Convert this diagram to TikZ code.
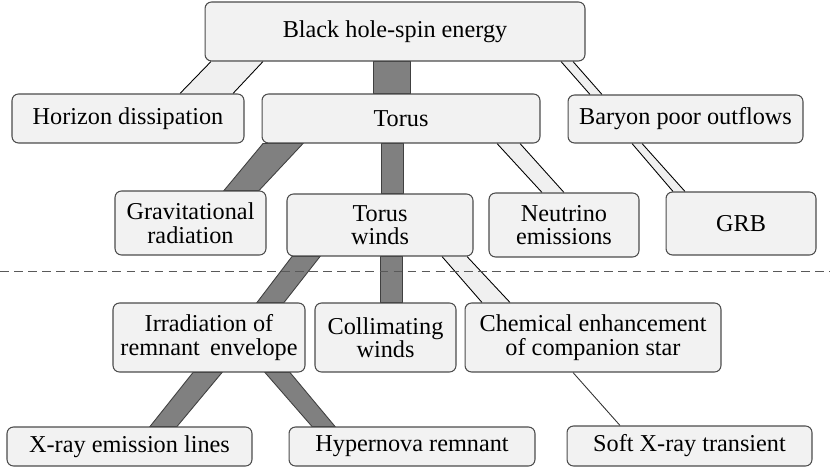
\documentclass[tikz,border=0pt]{standalone}
\usepackage{fontspec}
\setmainfont{Liberation Serif}
\newfontfamily\letratimes{Liberation Serif}
\usetikzlibrary{backgrounds}
\begin{document}
\begin{tikzpicture}[
    x=0.02cm, y=-0.02cm,
    caja/.style={font=\letratimes\fontsize{13.8}{13.4}\selectfont, draw=black!70, fill=black!5,
      rounded corners=0.13cm, line width=0.6pt, align=center, inner sep=0pt,
      execute at begin node=\letratimes},
    barraoscura/.style={fill=black!50, draw=black!75, line width=0.5pt},
    barraclara/.style={fill=black!6},
    bordeclaro/.style={draw=black, line width=0.5pt},
    enlace/.style={draw=black!80, line width=0.5pt},
    corte/.style={draw=black!65, line width=0.5pt, dash pattern=on 5pt off 3pt}
  ]
  % 1 px de la referencia = 0,02 cm; el eje y crece hacia abajo.
  \useasboundingbox (0,0) rectangle (830,469);

  % --- nivel 0 y 1 ---
  \node[caja, minimum width=7.6cm, minimum height=1.18cm] (energia) at (395,31.5) {Black hole-spin energy};
  \node[caja, minimum width=4.64cm, minimum height=0.98cm] (horizonte) at (128,118.5) {Horizon dissipation};
  \node[caja, minimum width=5.56cm, minimum height=0.98cm] (toro) at (401,118.5) {Torus};
  \node[caja, minimum width=4.7cm, minimum height=0.96cm] (bariones) at (685.5,119) {Baryon poor outflows};

  % --- nivel 2 ---
  \node[caja, minimum width=3.02cm, minimum height=1.28cm] (gravitacional) at (190.5,223) {Gravitational\\radiation};
  \node[caja, minimum width=3.72cm, minimum height=1.24cm] (vientos) at (380,225) {Torus\\winds};
  \node[caja, minimum width=3.0cm, minimum height=1.28cm] (neutrinos) at (564,225) {Neutrino\\emissions};
  \node[caja, minimum width=3.0cm, minimum height=1.26cm] (grb) at (741,223.5) {GRB};

  % --- nivel 3 ---
  \node[caja, minimum width=3.84cm, minimum height=1.38cm] (irradiacion) at (209,337.5) {Irradiation of\\remnant\, envelope};
  \node[caja, minimum width=2.82cm, minimum height=1.38cm] (colimacion) at (385.5,337.5) {Collimating\\winds};
  \node[caja, minimum width=5.12cm, minimum height=1.38cm] (quimica) at (593,337.5) {Chemical enhancement\\of companion star};

  % --- nivel 4 ---
  \node[caja, minimum width=4.9cm, minimum height=0.78cm] (rayosx) at (129.5,446.5) {X-ray emission lines};
  \node[caja, minimum width=4.92cm, minimum height=0.78cm] (hipernova) at (412,446.5) {Hypernova remnant};
  \node[caja, minimum width=4.9cm, minimum height=0.8cm] (transitorio) at (689.5,446) {Soft X-ray transient};

  \begin{scope}[on background layer]
    % --- barras oscuras: padre/hijo/arriba-izq/arriba-der/abajo-izq/abajo-der ---
    \foreach \pa/\hi/\sa/\sb/\ia/\ib in {energia/toro/373/410/373/410,
        toro/gravitacional/263/303/224/259, toro/vientos/381/403/381/403,
        vientos/irradiacion/292/320/257/284, vientos/colimacion/380/402/380/402,
        irradiacion/rayosx/193/222/150/177, irradiacion/hipernova/265/290/312/335}{
      \draw[barraoscura] (\sa,0 |- \pa.south) -- (\sb,0 |- \pa.south)
        -- (\ib,0 |- \hi.north) -- (\ia,0 |- \hi.north) -- cycle;
    }
    % --- barras claras con borde ---
    \foreach \pa/\hi/\sa/\sb/\ia/\ib in {energia/horizonte/211/263/180/233,
        energia/bariones/561/573/590/602, toro/neutrinos/497/520/542/564,
        bariones/grb/632/642/673/685, vientos/quimica/442/467/482/510}{
      \fill[barraclara] (\sa,0 |- \pa.south) -- (\sb,0 |- \pa.south)
        -- (\ib,0 |- \hi.north) -- (\ia,0 |- \hi.north) -- cycle;
      \draw[bordeclaro] (\sa,0 |- \pa.south) -- (\ia,0 |- \hi.north)
        (\sb,0 |- \pa.south) -- (\ib,0 |- \hi.north);
    }
    % --- enlace fino ---
    \draw[enlace] (573,0 |- quimica.south) -- (620,0 |- transitorio.north);
  \end{scope}

  % --- separador ---
  \draw[corte] (0,271) -- (830,271);
\end{tikzpicture}
\end{document}
